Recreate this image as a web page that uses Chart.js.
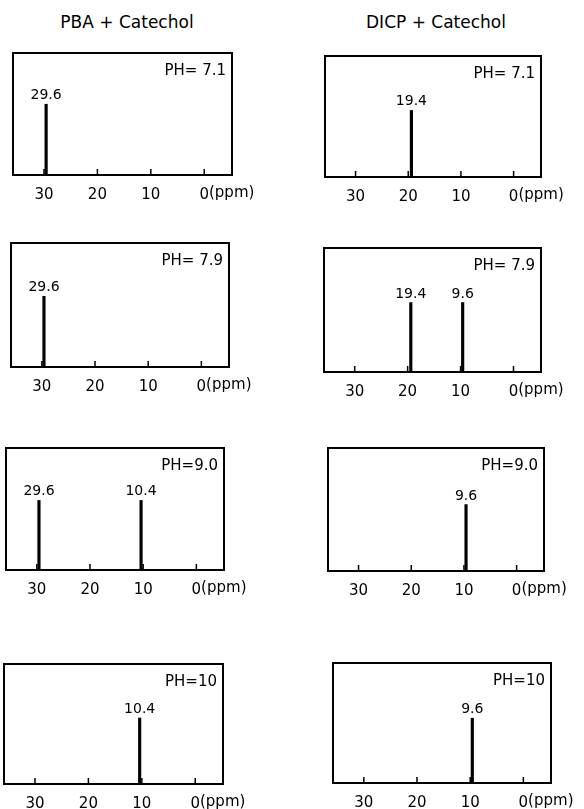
<!DOCTYPE html>
<html>
<head>
<meta charset="utf-8">
<script src="https://cdn.jsdelivr.net/npm/chart.js@4/dist/chart.umd.min.js"></script>
<style>
  html, body { margin: 0; padding: 0; background: #fff; overflow: hidden; }
  body { width: 584px; height: 809px; position: relative; }
  .titulo { position: absolute; width: 220px; text-align: center; font: 17px 'DejaVu Sans', sans-serif; line-height: 20px; color: #000; }
  canvas { position: absolute; }
</style>
</head>
<body>
<div class="titulo" id="t0" style="left:17px; top:12px;"></div>
<div class="titulo" id="t1" style="left:326px; top:12px;"></div>

<script>
// dados
const ppmTicks = [30, 20, 10, 0];
const titulos = ['PBA + Catechol', 'DICP + Catechol'];
const phLabels = ['PH= 7.1', 'PH= 7.9', 'PH=9.0', 'PH=10'];
const pbaShifts = [[29.6], [29.6], [29.6, 10.4], [10.4]];
const pbaAlturas = [[0.58], [0.57], [0.57, 0.57], [0.55]];
const dicpShifts = [[19.4], [19.4, 9.6], [9.6], [9.6]];
const dicpAlturas = [[0.55], [0.56, 0.56], [0.54], [0.54]];

// caixas dos paineis (esquerda, topo, direita, base) em px
const caixasPBA = [[13, 53, 232, 175], [11, 243, 229, 367], [6, 448, 224, 570], [4, 664, 223, 784]];
const caixasDICP = [[325, 56, 541, 177], [324, 248, 541, 372], [328, 448, 544, 571], [333, 663, 551, 783]];

const PAD_L = 10, PAD_T = 10, PAD_R = 50, ALT_X = 30, PAD_TICK = 11;
const fonte = "'DejaVu Sans', sans-serif";

document.getElementById('t0').textContent = titulos[0];
document.getElementById('t1').textContent = titulos[1];

// moldura, marcas internas, rotulos dos picos e texto do pH
const espectroPlugin = {
  id: 'espectro',
  afterDraw(chart, args, opts) {
    const ctx = chart.ctx;
    const a = chart.chartArea;
    const x = chart.scales.x;
    ctx.save();
    ctx.strokeStyle = '#000';
    ctx.lineWidth = 2;
    ctx.strokeRect(a.left, a.top, a.right - a.left, a.bottom - a.top);

    ctx.lineWidth = 1.5;
    ppmTicks.forEach(v => {
      const px = x.getPixelForValue(v);
      ctx.beginPath();
      ctx.moveTo(px, a.bottom);
      ctx.lineTo(px, a.bottom - 6);
      ctx.stroke();
    });

    // "(ppm)" logo depois do 0
    ctx.fillStyle = '#000';
    ctx.font = '15px ' + fonte;
    const p0 = x.getPixelForValue(0);
    const w0 = ctx.measureText('0').width;
    ctx.textAlign = 'left';
    ctx.textBaseline = 'top';
    ctx.fillText('(ppm)', p0 + w0 / 2, x.top + PAD_TICK);

    // rotulos dos picos
    ctx.font = '14px ' + fonte;
    ctx.textAlign = 'center';
    ctx.textBaseline = 'alphabetic';
    const meta = chart.getDatasetMeta(0);
    meta.data.forEach((el, i) => {
      const v = chart.data.datasets[0].data[i].x;
      ctx.fillText(v.toFixed(1), el.x, el.y - 5);
    });

    // pH
    ctx.font = '15px ' + fonte;
    ctx.textAlign = 'right';
    ctx.fillText(opts.ph, a.right - 6, a.top + 22);
    ctx.restore();
  }
};

function criaPainel(caixa, shifts, alturas, ph) {
  const [L, T, R, B] = caixa;
  const cv = document.createElement('canvas');
  const w = (R - L) + PAD_L + PAD_R;
  const h = (B - T) + PAD_T + ALT_X;
  cv.width = w; cv.height = h;
  cv.style.left = (L - PAD_L) + 'px';
  cv.style.top = (T - PAD_T) + 'px';
  cv.style.width = w + 'px';
  cv.style.height = h + 'px';
  document.body.appendChild(cv);

  new Chart(cv.getContext('2d'), {
    type: 'bar',
    data: {
      datasets: [{
        data: shifts.map((s, i) => ({ x: s, y: alturas[i] })),
        backgroundColor: '#000',
        borderWidth: 0,
        barThickness: 2.5
      }]
    },
    options: {
      responsive: false,
      animation: false,
      events: [],
      layout: { padding: { left: PAD_L, top: PAD_T, right: PAD_R, bottom: 0 } },
      scales: {
        x: {
          type: 'linear',
          reverse: true,
          offset: false,
          min: -5.2,
          max: 35.8,
          afterBuildTicks: s => { s.ticks = ppmTicks.map(v => ({ value: v })); },
          afterFit: s => { s.height = ALT_X; },
          grid: { display: false, drawTicks: false, offset: false },
          border: { display: false },
          ticks: {
            color: '#000',
            padding: PAD_TICK,
            maxRotation: 0,
            autoSkip: false,
            font: { family: fonte, size: 15 },
            callback: v => String(v)
          }
        },
        y: { display: false, min: 0, max: 1 }
      },
      plugins: {
        legend: { display: false },
        tooltip: { enabled: false },
        espectro: { ph: ph }
      }
    },
    plugins: [espectroPlugin]
  });
}

for (let i = 0; i < 4; i++) {
  criaPainel(caixasPBA[i], pbaShifts[i], pbaAlturas[i], phLabels[i]);
  criaPainel(caixasDICP[i], dicpShifts[i], dicpAlturas[i], phLabels[i]);
}
</script>
</body>
</html>
